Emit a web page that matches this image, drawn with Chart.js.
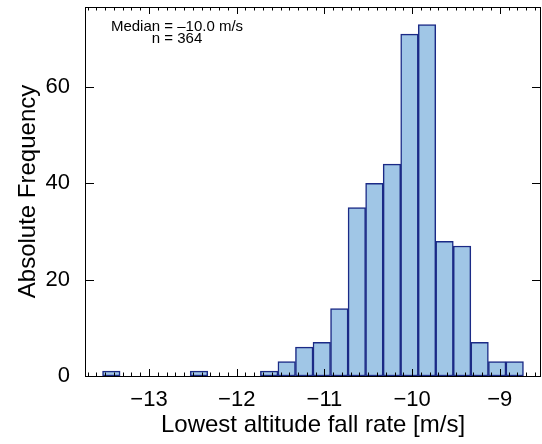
<!DOCTYPE html>
<html>
<head>
<meta charset="utf-8">
<script src="https://cdn.jsdelivr.net/npm/chart.js@4.4.1/dist/chart.umd.min.js"></script>
<style>
  html, body { margin: 0; padding: 0; background: #fff; }
  #wrap { width: 542px; height: 444px; position: relative; }
</style>
</head>
<body>
<div id="wrap"><canvas id="hist"></canvas></div>
<script>
Chart.defaults.font.family = '"Liberation Sans", Arial, Helvetica, sans-serif';
Chart.defaults.color = '#000';

// bin centres (bin width 0.2 m/s) and counts
const BIN_CENTRES = [-13.43, -13.23, -13.03, -12.83, -12.63, -12.43, -12.23, -12.03,
                     -11.83, -11.63, -11.43, -11.23, -11.03, -10.83, -10.63, -10.43,
                     -10.23, -10.03, -9.83, -9.63, -9.43, -9.23, -9.03, -8.83];
const COUNTS = [1, 0, 0, 0, 0, 1, 0, 0,
                0, 1, 3, 6, 7, 14, 35, 40,
                44, 71, 73, 28, 27, 7, 3, 3];
const X_TICKS = [-13, -12, -11, -10, -9];
const Y_TICKS = [0, 20, 40, 60];
const X_MIN = -13.73, X_MAX = -8.53;
const Y_MAX = 76.65;
const NOTE_LINES = ['Median = \u201310.0 m/s', 'n = 364'];

const fmtMinus = v => (v < 0 ? '\u2212' + Math.abs(v) : String(v));

// frame + inward ticks on all four sides, plus the note in the corner
const framePlugin = {
    id: 'frame',
    afterDatasetsDraw(chart) {
        const { ctx, chartArea: a, scales } = chart;
        const xs = scales.x, ys = scales.y;
        ctx.save();
        ctx.strokeStyle = '#000';
        ctx.lineWidth = 1;
        ctx.beginPath();
        // minor x ticks every 0.1
        for (let i = Math.ceil(X_MIN * 10); i <= Math.floor(X_MAX * 10); i++) {
            const px = Math.round(xs.getPixelForValue(i / 10)) + 0.5;
            const major = i % 10 === 0;
            const len = major ? 7 : 3.5;
            ctx.moveTo(px, a.bottom); ctx.lineTo(px, a.bottom - len);
            ctx.moveTo(px, a.top); ctx.lineTo(px, a.top + len);
        }
        Y_TICKS.forEach(v => {
            const py = Math.round(ys.getPixelForValue(v)) + 0.5;
            ctx.moveTo(a.left, py); ctx.lineTo(a.left + 9, py);
            ctx.moveTo(a.right, py); ctx.lineTo(a.right - 9, py);
        });
        ctx.stroke();
        ctx.strokeRect(Math.round(a.left) + 0.5, Math.round(a.top) + 0.5,
                       Math.round(a.right - a.left) - 1, Math.round(a.bottom - a.top));

        ctx.fillStyle = '#000';
        ctx.font = '15px "Liberation Sans", Arial, sans-serif';
        ctx.textAlign = 'center';
        ctx.textBaseline = 'middle';
        ctx.fillText(NOTE_LINES[0], a.left + 92, a.top + 20);
        ctx.fillText(NOTE_LINES[1], a.left + 92, a.top + 32);
        ctx.restore();
    }
};

const points = BIN_CENTRES.map((x, i) => ({ x: x, y: COUNTS[i] })).filter(p => p.y > 0);

const noPad = s => { s.paddingTop = 0; s.paddingBottom = 0; s.paddingLeft = 0; s.paddingRight = 0; };

new Chart(document.getElementById('hist'), {
    type: 'bar',
    data: {
        datasets: [{
            data: points,
            backgroundColor: '#a0c6e6',
            borderColor: '#1b2a86',
            borderWidth: 1.5,
            borderSkipped: false,
            barPercentage: 1,
            categoryPercentage: 1
        }]
    },
    options: {
        responsive: true,
        maintainAspectRatio: false,
        animation: false,
        layout: { padding: { top: 7, right: 1, left: 0, bottom: 0 } },
        plugins: { legend: { display: false }, tooltip: { enabled: false } },
        scales: {
            x: {
                type: 'linear',
                min: X_MIN,
                max: X_MAX,
                offset: false,
                grid: { display: false },
                border: { display: false },
                afterBuildTicks: s => { s.ticks = X_TICKS.map(v => ({ value: v })); },
                afterFit: s => { s.height = 68; noPad(s); },
                ticks: { font: { size: 22 }, padding: 3, maxRotation: 0, autoSkip: false, callback: v => fmtMinus(v) },
                title: { display: true, text: 'Lowest altitude fall rate [m/s]', font: { size: 24 }, padding: { top: 0 } }
            },
            y: {
                min: 0,
                max: Y_MAX,
                grid: { display: false },
                border: { display: false },
                afterBuildTicks: s => { s.ticks = Y_TICKS.map(v => ({ value: v })); },
                afterFit: s => { s.width = 85; noPad(s); },
                ticks: { font: { size: 22 }, padding: 7 },
                title: { display: true, text: 'Absolute Frequency', font: { size: 24 }, padding: { top: 14, bottom: 0 } }
            }
        }
    },
    plugins: [framePlugin]
});
</script>
</body>
</html>
